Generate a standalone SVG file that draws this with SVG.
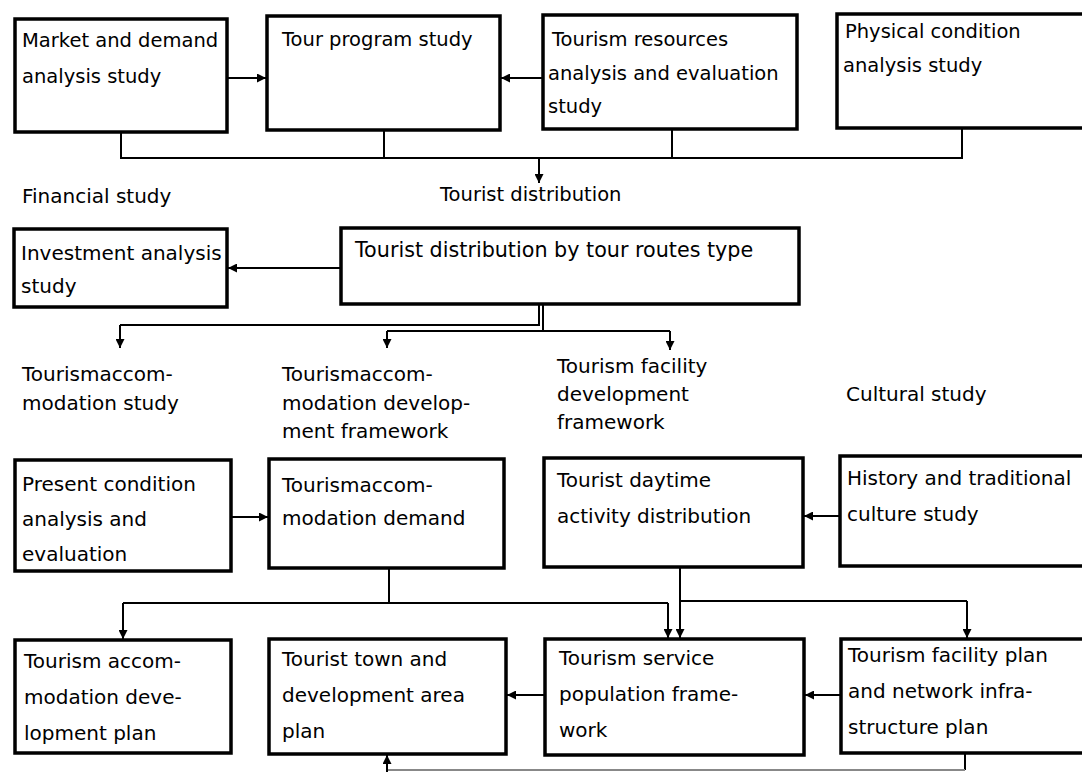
<svg xmlns="http://www.w3.org/2000/svg" width="1082" height="772" viewBox="0 0 1082 772">
  <defs>
    <marker id="ah" viewBox="0 0 10 10" refX="10" refY="5" markerWidth="9" markerHeight="9" markerUnits="userSpaceOnUse" orient="auto">
      <path d="M0,0 L10,5 L0,10 z" fill="#000"/>
    </marker>
  </defs>
  <style>
    .box{fill:#fff;stroke:#000;stroke-width:3.5}
    .t{font-family:"DejaVu Sans",sans-serif;font-size:20px;fill:#000}
    .top{font-size:19.5px}
    .wide{font-size:20.7px}
    .c{fill:none;stroke:#000;stroke-width:2}
    .a{marker-end:url(#ah)}
    .faint{stroke:#888}
  </style>
  <rect width="1082" height="772" fill="#fff"/>

  <!-- connectors -->
  <g id="connectors">
    <!-- top row -->
    <path class="c a" d="M227,78 H266"/>
    <path class="c a" d="M543,78 H501"/>
    <path class="c" d="M121,132 V158 H962 V128 M384,130 V158 M672,129 V158"/>
    <path class="c a" d="M539,158 V183"/>
    <!-- distribution by routes -->
    <path class="c a" d="M341,268 H228"/>
    <path class="c" d="M539,304 V325 H120"/>
    <path class="c a" d="M120,325 V348"/>
    <path class="c" d="M543,304 V331 H387"/>
    <path class="c a" d="M387,331 V348"/>
    <path class="c" d="M543,331 H670"/>
    <path class="c a" d="M670,331 V350"/>
    <!-- third row -->
    <path class="c a" d="M231,517 H268"/>
    <path class="c a" d="M840,516 H804"/>
    <path class="c" d="M389,568 V603 H123"/>
    <path class="c a" d="M123,603 V639"/>
    <path class="c" d="M389,603 H668"/>
    <path class="c a" d="M668,603 V638"/>
    <path class="c a" d="M680,567 V638"/>
    <path class="c" d="M680,601 H967"/>
    <path class="c a" d="M967,601 V638"/>
    <!-- bottom row -->
    <path class="c a" d="M841,695 H805"/>
    <path class="c a" d="M545,695 H507"/>
    <path class="c" d="M965,753 V770"/>
    <path class="c faint" d="M387,770 H965"/>
    <path class="c a" d="M387,772 V755"/>
  </g>

  <!-- top row -->
  <g id="market-demand">
    <rect class="box" x="15" y="19" width="212" height="113"/>
    <text class="t top"><tspan x="22" y="47">Market and demand</tspan><tspan x="22" y="83">analysis study</tspan></text>
  </g>
  <g id="tour-program">
    <rect class="box" x="267" y="16" width="233" height="114"/>
    <text class="t top" x="282" y="46">Tour program study</text>
  </g>
  <g id="tourism-resources">
    <rect class="box" x="543" y="15" width="254" height="114"/>
    <text class="t top"><tspan x="552" y="46">Tourism resources</tspan><tspan x="548" y="80">analysis and evaluation</tspan><tspan x="548" y="113">study</tspan></text>
  </g>
  <g id="physical-condition">
    <rect class="box" x="837" y="14" width="252" height="114"/>
    <text class="t top"><tspan x="845" y="38">Physical condition</tspan><tspan x="843" y="72">analysis study</tspan></text>
  </g>

  <g id="financial-study">
    <text class="t" x="22" y="203">Financial study</text>
  </g>
  <g id="tourist-distribution">
    <text class="t top" x="440" y="201">Tourist distribution</text>
  </g>

  <!-- second row -->
  <g id="investment-analysis">
    <rect class="box" x="14" y="229" width="213" height="78"/>
    <text class="t"><tspan x="21" y="260">Investment analysis</tspan><tspan x="21" y="293">study</tspan></text>
  </g>
  <g id="distribution-by-routes">
    <rect class="box" x="341" y="228" width="458" height="76"/>
    <text class="t wide" x="355" y="257">Tourist distribution by tour routes type</text>
  </g>

  <g id="accom-study">
    <text class="t"><tspan x="22" y="381">Tourismaccom-</tspan><tspan x="22" y="410">modation study</tspan></text>
  </g>
  <g id="accom-framework">
    <text class="t"><tspan x="282" y="381">Tourismaccom-</tspan><tspan x="282" y="410">modation develop-</tspan><tspan x="282" y="438">ment framework</tspan></text>
  </g>
  <g id="facility-framework">
    <text class="t"><tspan x="557" y="373">Tourism facility</tspan><tspan x="557" y="401">development</tspan><tspan x="557" y="429">framework</tspan></text>
  </g>
  <g id="cultural-study">
    <text class="t" x="846" y="401">Cultural study</text>
  </g>

  <!-- third row -->
  <g id="present-condition">
    <rect class="box" x="15" y="460" width="216" height="111"/>
    <text class="t"><tspan x="22" y="491">Present condition</tspan><tspan x="22" y="526">analysis and</tspan><tspan x="22" y="561">evaluation</tspan></text>
  </g>
  <g id="accom-demand">
    <rect class="box" x="269" y="459" width="235" height="109"/>
    <text class="t"><tspan x="282" y="492">Tourismaccom-</tspan><tspan x="282" y="525">modation demand</tspan></text>
  </g>
  <g id="daytime-activity">
    <rect class="box" x="544" y="458" width="259" height="109"/>
    <text class="t"><tspan x="557" y="487">Tourist daytime</tspan><tspan x="557" y="523">activity distribution</tspan></text>
  </g>
  <g id="history-culture">
    <rect class="box" x="840" y="456" width="249" height="110"/>
    <text class="t"><tspan x="847" y="485">History and traditional</tspan><tspan x="847" y="521">culture study</tspan></text>
  </g>

  <!-- bottom row -->
  <g id="accom-plan">
    <rect class="box" x="15" y="640" width="216" height="113"/>
    <text class="t"><tspan x="24" y="668">Tourism accom-</tspan><tspan x="24" y="704">modation deve-</tspan><tspan x="24" y="740">lopment plan</tspan></text>
  </g>
  <g id="town-plan">
    <rect class="box" x="269" y="639" width="237" height="115"/>
    <text class="t"><tspan x="282" y="666">Tourist town and</tspan><tspan x="282" y="702">development area</tspan><tspan x="282" y="738">plan</tspan></text>
  </g>
  <g id="service-population">
    <rect class="box" x="545" y="639" width="259" height="116"/>
    <text class="t"><tspan x="559" y="665">Tourism service</tspan><tspan x="559" y="701">population frame-</tspan><tspan x="559" y="737">work</tspan></text>
  </g>
  <g id="facility-network">
    <rect class="box" x="841" y="639" width="248" height="114"/>
    <text class="t"><tspan x="848" y="662">Tourism facility plan</tspan><tspan x="848" y="698">and network infra-</tspan><tspan x="848" y="734">structure plan</tspan></text>
  </g>
</svg>
